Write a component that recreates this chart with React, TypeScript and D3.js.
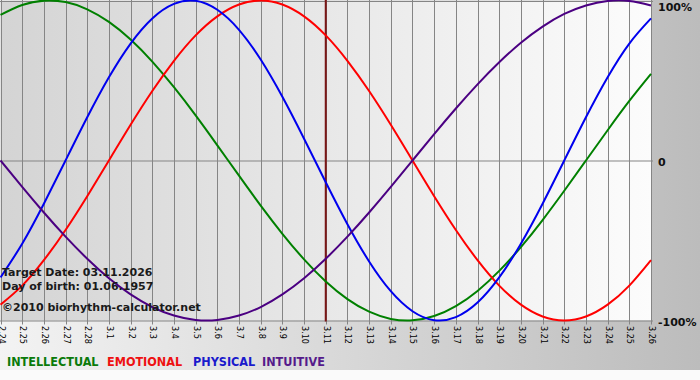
import React from "react";
import * as d3 from "d3";

const dayLabels = ["2.24","2.25","2.26","2.27","2.28","3.1","3.2","3.3","3.4","3.5","3.6","3.7","3.8","3.9","3.10","3.11","3.12","3.13","3.14","3.15","3.16","3.17","3.18","3.19","3.20","3.21","3.22","3.23","3.24","3.25","3.26"];

const intellectual = [0.910,0.972,0.999,0.990,0.945,0.866,0.756,0.618,0.458,0.282,0.095,-0.095,-0.282,-0.458,-0.618,-0.756,-0.866,-0.945,-0.990,-0.999,-0.972,-0.910,-0.815,-0.690,-0.541,-0.372,-0.189,0,0.189,0.372,0.541];
const emotional = [-0.901,-0.782,-0.623,-0.434,-0.223,0,0.223,0.434,0.623,0.782,0.901,0.975,1,0.975,0.901,0.782,0.623,0.434,0.223,0,-0.223,-0.434,-0.623,-0.782,-0.901,-0.975,-1,-0.975,-0.901,-0.782,-0.623];
const physical = [-0.731,-0.520,-0.270,0,0.270,0.520,0.731,0.888,0.979,0.998,0.942,0.817,0.631,0.398,0.136,-0.136,-0.398,-0.631,-0.817,-0.942,-0.998,-0.979,-0.888,-0.731,-0.520,-0.270,0,0.270,0.520,0.731,0.888];
const intuitive = [0,-0.165,-0.325,-0.476,-0.614,-0.736,-0.837,-0.916,-0.969,-0.997,-0.997,-0.969,-0.916,-0.837,-0.736,-0.614,-0.476,-0.325,-0.165,0,0.165,0.325,0.476,0.614,0.736,0.837,0.916,0.969,0.997,0.997,0.969];

const yTickLabels = ["100%", "0", "-100%"];
const yTickValues = [1, 0, -1];
const targetIndex = 15;
const infoLines = ["Target Date: 03.11.2026", "Day of birth: 01.06.1957", "©2010 biorhythm-calculator.net"];
const legendNames = ["INTELLECTUAL", "EMOTIONAL", "PHYSICAL", "INTUITIVE"];

const W = 700, H = 380;
const plotL = 0.5, plotR = 651, plotT = 0.5, plotB = 320.5;

export default function App() {
  const x = d3.scaleLinear().domain([0, dayLabels.length - 1]).range([plotL, plotR]);
  const y = d3.scaleLinear().domain([-1, 1]).range([plotB, plotT]);
  const line = d3.line<number>().x((_, i) => x(i)).y((d) => y(d)).curve(d3.curveNatural);

  const series = [
    { name: legendNames[0], data: intellectual, color: "#008000", legendColor: "#0a7a0a", lx: 7 },
    { name: legendNames[1], data: emotional, color: "#ff0000", legendColor: "#ee1111", lx: 107 },
    { name: legendNames[2], data: physical, color: "#0000ee", legendColor: "#1a1acc", lx: 193 },
    { name: legendNames[3], data: intuitive, color: "#4b0082", legendColor: "#551a8b", lx: 262 },
  ];

  return (
    <svg width={W} height={H} style={{ position: "absolute", left: 0, top: 0, display: "block" }}>
      <defs>
        <linearGradient id="outerBg" x1="0" y1="0" x2="1" y2="0">
          <stop offset="0%" stopColor="#f3f3f3" />
          <stop offset="100%" stopColor="#bcbcbc" />
        </linearGradient>
        <linearGradient id="plotBg" x1="0" y1="0" x2="1" y2="0">
          <stop offset="0%" stopColor="#d4d4d4" />
          <stop offset="100%" stopColor="#fcfcfc" />
        </linearGradient>
        <clipPath id="plotClip">
          <rect x={plotL - 1} y={-2} width={plotR - plotL + 2} height={plotB + 4} />
        </clipPath>
      </defs>
      <rect x={0} y={0} width={W} height={H} fill="#fafafa" />
      <rect x={0} y={0} width={W} height={370} fill="url(#outerBg)" />
      <rect x={plotL} y={plotT} width={plotR - plotL} height={plotB - plotT} fill="url(#plotBg)" />

      {/* vertical grid */}
      {dayLabels.map((d, i) => (
        <line key={"g" + i} x1={Math.round(x(i)) + 0.5} x2={Math.round(x(i)) + 0.5} y1={0} y2={plotB + 4} stroke="#858585" strokeWidth={1} />
      ))}
      {/* horizontal grid */}
      {yTickValues.map((v, i) => (
        <line key={"h" + i} x1={0} x2={plotR + 2} y1={Math.round(y(v)) + (i === 0 ? 0.5 : 0)} y2={Math.round(y(v)) + (i === 0 ? 0.5 : 0)} stroke="#858585" strokeWidth={1} />
      ))}

      {/* target date line */}
      <line x1={x(targetIndex)} x2={x(targetIndex)} y1={0} y2={plotB + 1} stroke="#7a1616" strokeWidth={2} />

      <g clipPath="url(#plotClip)">
        {series.map((s) => (
          <path key={s.name} d={line(s.data) || ""} fill="none" stroke={s.color} strokeWidth={2} />
        ))}
      </g>

      {/* info text */}
      {infoLines.map((t, i) => (
        <text key={"info" + i} x={2} y={[276, 290, 311][i]} fontFamily="'DejaVu Sans', Verdana, sans-serif" fontWeight="bold" fontSize={11} fill="#1a1a1a">{t}</text>
      ))}

      {/* y labels */}
      {yTickValues.map((v, i) => (
        <text key={"yl" + i} x={658} y={y(v) + (i === 0 ? 10 : 5)} fontFamily="'DejaVu Sans', Verdana, sans-serif" fontWeight="bold" fontSize={11} fill="#111">{yTickLabels[i]}</text>
      ))}

      {/* x labels rotated */}
      {dayLabels.map((d, i) => (
        <text key={"xl" + i} transform={`translate(${Math.round(x(i)) + 0.5},326) rotate(90)`} dominantBaseline="central" fontFamily="'DejaVu Sans Condensed', 'DejaVu Sans', sans-serif" fontSize={9} fill="#000">{d}</text>
      ))}

      {/* legend */}
      {series.map((s) => (
        <text key={"lg" + s.name} x={s.lx} y={366} fontFamily="'DejaVu Sans Condensed', 'DejaVu Sans', sans-serif" fontWeight="bold" fontSize={12.5} fill={s.legendColor}>{s.name}</text>
      ))}
    </svg>
  );
}
